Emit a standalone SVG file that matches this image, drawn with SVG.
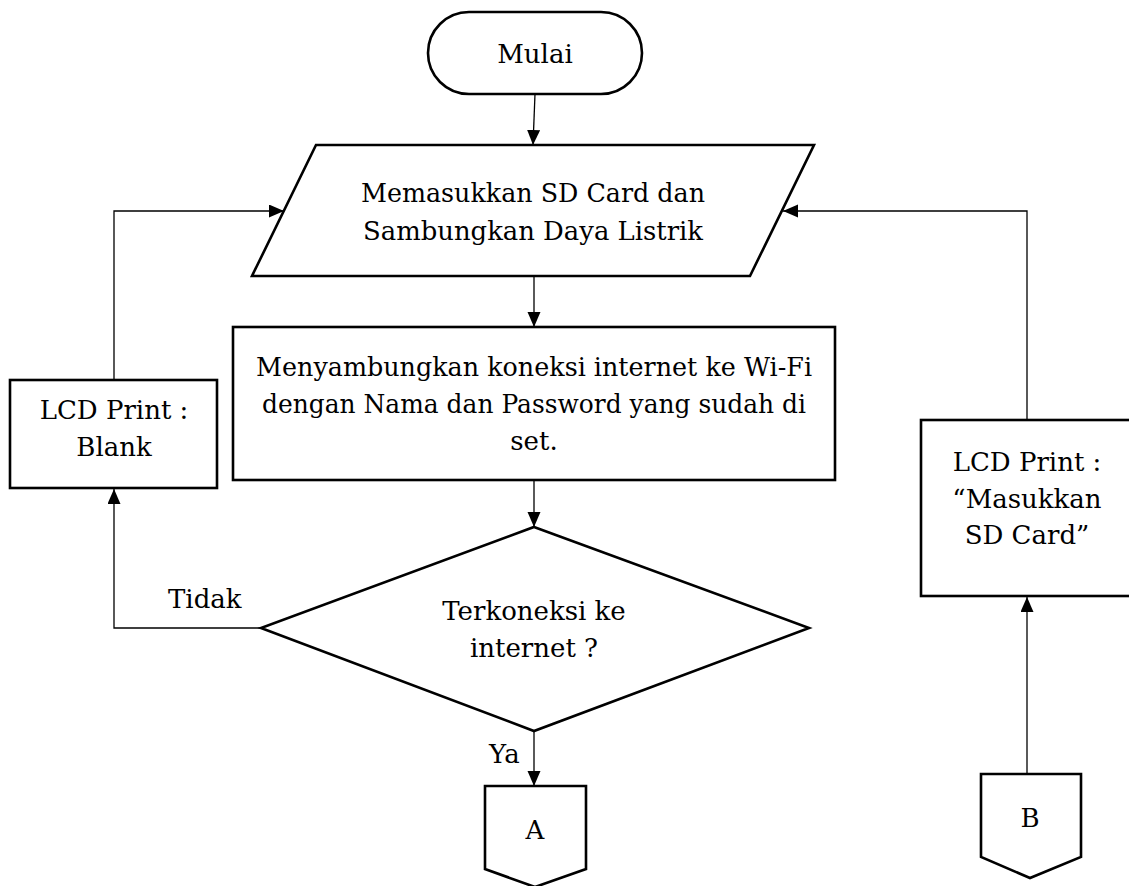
<svg xmlns="http://www.w3.org/2000/svg" width="1129" height="886" viewBox="0 0 1129 886">
<style>
.s{fill:#fff;stroke:#000;stroke-width:2.6;stroke-linejoin:miter}
text{font-family:'DejaVu Serif','Liberation Serif',serif;font-size:26px;fill:#000}
.t{text-anchor:middle}
.c{fill:none;stroke:#000;stroke-width:1.3}
</style>
<defs>
<marker id="ah" markerUnits="userSpaceOnUse" markerWidth="16" markerHeight="14" refX="15" refY="6.5" orient="auto">
<path d="M0,0 L15,6.5 L0,13 z" fill="#000"/>
</marker>
</defs>
<rect width="1129" height="886" fill="#fff"/>
<g id="connectors">
<line class="c" x1="535" y1="94" x2="533" y2="145" marker-end="url(#ah)"/>
<line class="c" x1="534" y1="276" x2="534" y2="327" marker-end="url(#ah)"/>
<line class="c" x1="534" y1="480" x2="534" y2="527" marker-end="url(#ah)"/>
<polyline class="c" points="261,628 114,628 114,489" marker-end="url(#ah)"/>
<polyline class="c" points="114,380 114,211 284,211" marker-end="url(#ah)"/>
<polyline class="c" points="1027,420 1027,211 783,211" marker-end="url(#ah)"/>
<line class="c" x1="534" y1="731" x2="534" y2="786" marker-end="url(#ah)"/>
<line class="c" x1="1027" y1="774" x2="1027" y2="597" marker-end="url(#ah)"/>
<text x="168" y="608">Tidak</text>
<text x="489" y="763">Ya</text>
</g>
<g id="start">
<rect class="s" x="428" y="12" width="214" height="82" rx="41" ry="41"/>
<text class="t" x="535" y="63">Mulai</text>
</g>
<g id="input">
<polygon class="s" points="316,145 814,145 750,276 252,276"/>
<text class="t" x="533" y="202" textLength="344" lengthAdjust="spacingAndGlyphs">Memasukkan SD Card dan</text>
<text class="t" x="533" y="240" textLength="340" lengthAdjust="spacingAndGlyphs">Sambungkan Daya Listrik</text>
</g>
<g id="connect">
<rect class="s" x="233" y="327" width="602" height="153"/>
<text class="t" x="534" y="376" textLength="556" lengthAdjust="spacingAndGlyphs">Menyambungkan koneksi internet ke Wi-Fi</text>
<text class="t" x="534" y="413" textLength="544" lengthAdjust="spacingAndGlyphs">dengan Nama dan Password yang sudah di</text>
<text class="t" x="534" y="450">set.</text>
</g>
<g id="decision">
<polygon class="s" points="534,527 809,628 534,731 261,628"/>
<text class="t" x="534" y="620">Terkoneksi ke</text>
<text class="t" x="534" y="657">internet ?</text>
</g>
<g id="lcd-blank">
<rect class="s" x="10" y="380" width="207" height="108"/>
<text class="t" x="114" y="419">LCD Print :</text>
<text class="t" x="114" y="456">Blank</text>
</g>
<g id="lcd-sd">
<rect class="s" x="921" y="420" width="212" height="176"/>
<text class="t" x="1027" y="471">LCD Print :</text>
<text class="t" x="1027" y="508">“Masukkan</text>
<text class="t" x="1027" y="544">SD Card”</text>
</g>
<g id="conn-a">
<polygon class="s" points="485,786 586,786 586,869 535,887 485,869"/>
<text class="t" x="535" y="839">A</text>
</g>
<g id="conn-b">
<polygon class="s" points="981,774 1081,774 1081,857 1030,878 981,857"/>
<text class="t" x="1030" y="827">B</text>
</g>
</svg>
